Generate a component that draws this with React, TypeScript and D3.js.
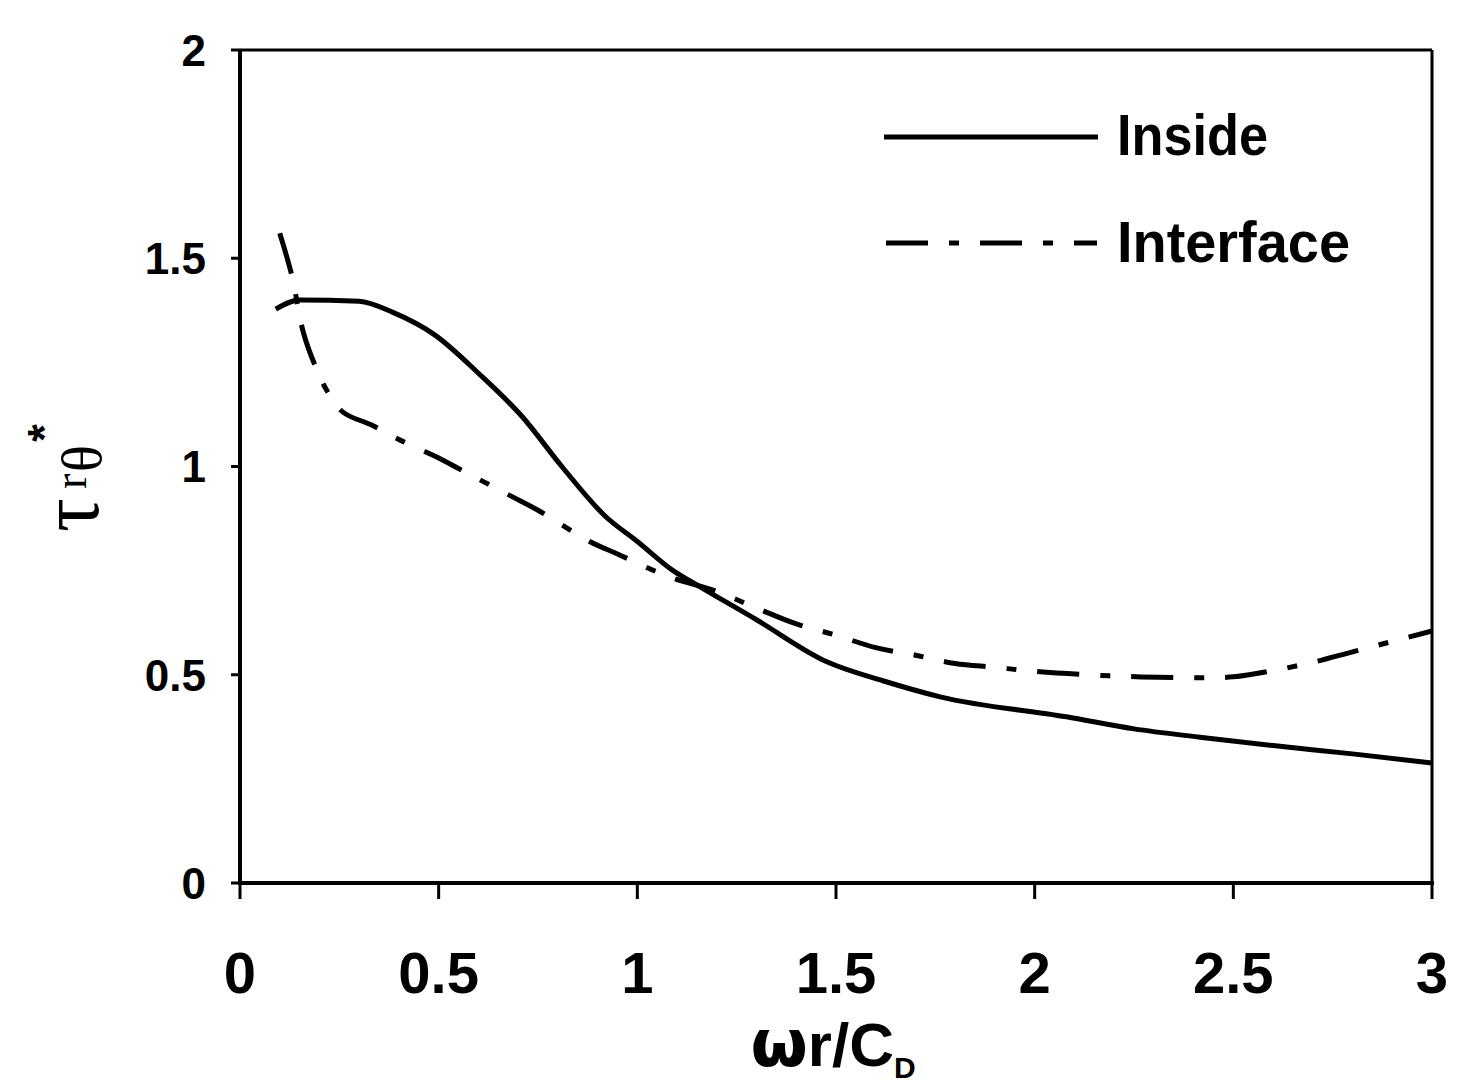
import React from "react";
import * as d3 from "d3";

const xTicks = [0, 0.5, 1, 1.5, 2, 2.5, 3];
const xTickLabels = ["0", "0.5", "1", "1.5", "2", "2.5", "3"];
const yTicks = [0, 0.5, 1, 1.5, 2];
const yTickLabels = ["0", "0.5", "1", "1.5", "2"];

const seriesNames = ["Inside", "Interface"];

const insideX = [0.09, 0.15, 0.3, 0.385, 0.49, 0.6, 0.71, 0.81, 0.92, 1.0, 1.09, 1.158, 1.3, 1.477, 1.62, 1.762, 2.08, 2.25, 2.416, 2.6, 2.8, 3.0];
const insideY = [1.378, 1.4, 1.397, 1.37, 1.316, 1.224, 1.12, 1.0, 0.88, 0.82, 0.75, 0.711, 0.632, 0.531, 0.485, 0.447, 0.399, 0.37, 0.35, 0.33, 0.31, 0.288];

const interfaceX = [0.1, 0.13, 0.16, 0.19, 0.22, 0.26, 0.33, 0.4, 0.49, 0.56, 0.68, 0.75, 0.88, 0.95, 1.08, 1.2, 1.3, 1.4, 1.5, 1.6, 1.7, 1.8, 1.9, 2.0, 2.2, 2.4, 2.5, 2.6, 2.7, 2.8, 2.9, 3.0];
const interfaceY = [1.56, 1.46, 1.32, 1.24, 1.18, 1.13, 1.1, 1.065, 1.025, 0.99, 0.93, 0.895, 0.82, 0.79, 0.735, 0.7, 0.66, 0.622, 0.595, 0.565, 0.547, 0.527, 0.518, 0.508, 0.497, 0.493, 0.495, 0.51, 0.53, 0.555, 0.58, 0.605];

const W = 1460;
const H = 1084;
const left = 240;
const right = 1432;
const top = 50;
const bottom = 883;

export default function App() {
  const x = d3.scaleLinear().domain([0, 3]).range([left, right]);
  const y = d3.scaleLinear().domain([0, 2]).range([bottom, top]);

  const line = d3
    .line<[number, number]>()
    .x((d) => x(d[0]))
    .y((d) => y(d[1]))
    .curve(d3.curveMonotoneX);

  const insideData: [number, number][] = insideX.map((v, i) => [v, insideY[i]]);
  const interfaceData: [number, number][] = interfaceX.map((v, i) => [v, interfaceY[i]]);
  const interfacePath = d3
    .line<[number, number]>()
    .x((d) => x(d[0]))
    .y((d) => y(d[1]))
    .curve(d3.curveCatmullRom)(interfaceData);

  const dash = "42 21 10 21";
  const sans = "'Liberation Sans', Arial, sans-serif";

  return (
    <div style={{ position: "absolute", left: 0, top: 0 }}>
      <svg width={W} height={H} viewBox={`0 0 ${W} ${H}`} style={{ display: "block", background: "#fff" }}>
        <rect x={0} y={0} width={W} height={H} fill="#fff" />
        {/* frame */}
        <line x1={left} y1={top} x2={right} y2={top} stroke="#000" strokeWidth={3} />
        <line x1={right} y1={top} x2={right} y2={bottom} stroke="#000" strokeWidth={3} />
        <line x1={left} y1={top - 1} x2={left} y2={bottom + 2} stroke="#000" strokeWidth={4} />
        <line x1={left - 2} y1={bottom} x2={right + 2} y2={bottom} stroke="#000" strokeWidth={4} />

        {/* y ticks */}
        {yTicks.map((t, i) => (
          <g key={"y" + i}>
            <line x1={left - 9} x2={left} y1={y(t)} y2={y(t)} stroke="#000" strokeWidth={3} />
            <text
              x={206}
              y={y(t)}
              dy="0.36em"
              textAnchor="end"
              fontFamily="'Liberation Sans Narrow', 'Arial Narrow', sans-serif"
              fontWeight="bold"
              fontSize={44}
              fill="#000"
            >
              {yTickLabels[i]}
            </text>
          </g>
        ))}

        {/* x ticks */}
        {xTicks.map((t, i) => (
          <g key={"x" + i}>
            <line x1={x(t)} x2={x(t)} y1={bottom} y2={bottom + 16} stroke="#000" strokeWidth={3} />
            <text x={x(t)} y={993} textAnchor="middle" fontFamily={sans} fontWeight="bold" fontSize={58} fill="#000">
              {xTickLabels[i]}
            </text>
          </g>
        ))}

        {/* series */}
        <path d={line(insideData) || ""} fill="none" stroke="#000" strokeWidth={5} strokeLinejoin="round" />
        <path d={interfacePath || ""} fill="none" stroke="#000" strokeWidth={5} strokeDasharray={dash} />

        {/* legend */}
        <line x1={884} x2={1098} y1={137} y2={137} stroke="#000" strokeWidth={5} />
        <text x={1117} y={155} fontFamily={sans} fontWeight="bold" fontSize={58} textLength={151} lengthAdjust="spacingAndGlyphs" fill="#000">
          {seriesNames[0]}
        </text>
        <line x1={886} x2={1097} y1={243} y2={243} stroke="#000" strokeWidth={5} strokeDasharray={dash} />
        <text x={1117} y={262} fontFamily={sans} fontWeight="bold" fontSize={58} textLength={233} lengthAdjust="spacingAndGlyphs" fill="#000">
          {seriesNames[1]}
        </text>

        {/* y axis title: tau_{r theta}^* */}
        <g transform="rotate(-90)">
          <text x={-532} y={98} fontFamily="'Liberation Serif', 'DejaVu Serif', serif" fontSize={84} fill="#000">
            τ
          </text>
          <text x={-489} y={86} fontFamily="'Liberation Serif', 'DejaVu Serif', serif" fontSize={46} fill="#000">
            r
          </text>
          <text x={-472} y={101} fontFamily="'Liberation Serif', 'DejaVu Serif', serif" fontSize={56} fill="#000">
            θ
          </text>
          <text x={-442} y={60} fontFamily={sans} fontWeight="bold" fontSize={46} fill="#000">
            *
          </text>
        </g>

        {/* x axis title */}
        <text x={833} y={1066} textAnchor="middle" fill="#000" fontFamily={sans} fontWeight="bold" fontSize={62}>
          <tspan fontFamily="'DejaVu Sans', sans-serif" fontSize={66}>ω</tspan>
          <tspan>r/C</tspan>
          <tspan fontSize={30} dy={12}>D</tspan>
        </text>
      </svg>
    </div>
  );
}
